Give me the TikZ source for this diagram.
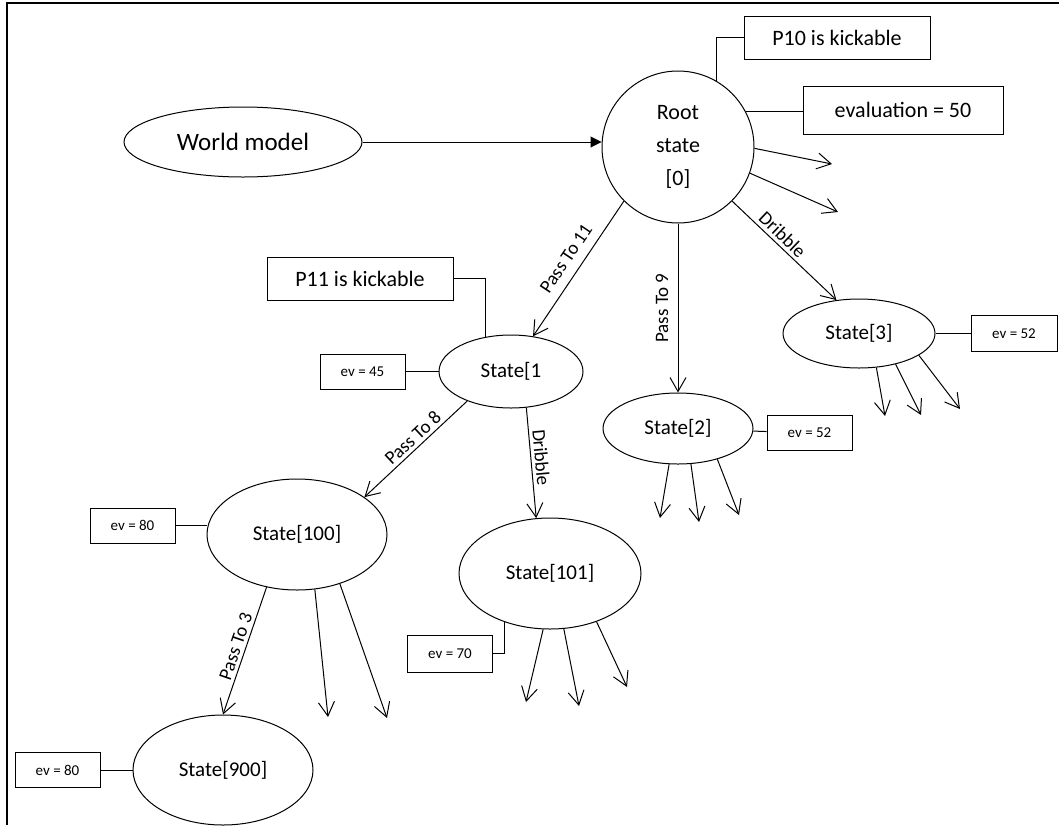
\documentclass[tikz,border=0pt]{standalone}
\usepackage{fontspec}
\setmainfont{Carlito}
\usetikzlibrary{shapes.geometric,positioning,arrows.meta}

\begin{document}
\begin{tikzpicture}[
        x=1pt, y=-1pt,
        line width=1pt,
        state/.style={ellipse, draw, inner sep=2pt, font=\fontsize{21}{25}\selectfont},
        infobox/.style={rectangle, draw, inner sep=2pt, minimum width=186pt, minimum height=43pt, font=\fontsize{22}{26}\selectfont},
        evbox/.style={rectangle, draw, inner sep=1pt, minimum width=85pt, minimum height=35pt, font=\fontsize{15}{18}\selectfont},
        move/.style={font=\fontsize{19}{22}\selectfont, sloped, above},
        >={Straight Barb[length=14pt,width=16pt]}
    ]
        \useasboundingbox (0,0) rectangle (1059,825);
        \draw[line width=1.6pt] (7,825) -- (7,3) -- (1059,3);

        % world model and root
        \node[ellipse, draw, minimum width=238pt, minimum height=70pt, font=\fontsize{25}{30}\selectfont] (wm) at (243,142) {World model};
        \node[circle, draw, minimum size=152pt, align=center, font=\fontsize{22}{33}\selectfont] (root) at (678,147) {Root\\state\\{[0]}};
        \node[infobox] (p10) at (837,37.5) {P10 is kickable};
        \node[infobox, minimum width=200pt, minimum height=48pt] (ev0) at (903,110) {evaluation = 50};

        % states
        \node[state, minimum width=144pt, minimum height=73pt] (s1) at (511,371.5) {State[1};
        \node[state, minimum width=150pt, minimum height=71pt] (s2) at (678,428.5) {State[2]};
        \node[state, minimum width=152pt, minimum height=69pt] (s3) at (859,333.5) {State[3]};
        \node[state, minimum width=180pt, minimum height=111pt] (s100) at (297,534.5) {State[100]};
        \node[state, minimum width=182pt, minimum height=111pt] (s101) at (550,573.5) {State[101]};
        \node[state, minimum width=180pt, minimum height=110pt] (s900) at (223,770) {State[900]};

        % annotations
        \node[infobox] (p11) at (360,278.5) {P11 is kickable};
        \node[evbox, left=33pt of s1] (ev1) {ev = 45};
        \node[evbox, right=13pt of s2, yshift=-4.5pt] (ev2) {ev = 52};
        \node[evbox, right=35pt of s3, minimum width=86pt, minimum height=36pt] (ev3) {ev = 52};
        \node[evbox, left=31pt of s100, yshift=9pt] (ev100) {ev = 80};
        \node[evbox, minimum height=37pt] (ev101) at (450,653.5) {ev = 70};
        \node[evbox, left=32pt of s900] (ev900) {ev = 80};

        % loose ends
        \coordinate (r1) at (832,164);
        \coordinate (r2) at (838,212);
        \coordinate (s2a) at (660,518);
        \coordinate (s2b) at (699,522);
        \coordinate (s2c) at (739,515);
        \coordinate (s3a) at (885,416);
        \coordinate (s3b) at (921,415);
        \coordinate (s3c) at (960,409);
        \coordinate (s100a) at (328,717);
        \coordinate (s100b) at (387,718);
        \coordinate (s101a) at (526,702);
        \coordinate (s101b) at (579,706);
        \coordinate (s101c) at (627,687);

        % root
        \draw[-{Triangle[length=11pt,width=11pt]}] (wm.east) -- (wm.east -| root.west);
        \draw (p10.west) -| (root.60);
        \draw (root.28) -- (root.28 -| ev0.west);
        \draw[->] (root.-1) -- (r1);
        \draw[->] (root.-20) -- (r2);
        \draw[->] (root.-135) -- node[move, pos=.49, above=6pt] {Pass To 11} (s1.58);
        \draw[<-] (s2.north) -- node[move, pos=.5, above=6pt] {Pass To 9} (root.south);
        \draw[->] (root.-45) -- node[move, pos=.415] {Dribble} (s3.124);

        % state 1
        \draw (p11.east) -| (s1.126);
        \draw (ev1) -- (s1);
        \draw[->] (s1.214) -- node[move, pos=.46] {Pass To 8} (s100.29);
        \draw[->] (s1.-67) -- node[move, pos=.46] {Dribble} (s101.104);

        % state 2 and 3
        \draw (s2) -- (ev2);
        \draw[->] (s2.-104) -- (s2a);
        \draw[->] (s2.-70) -- (s2b);
        \draw[->] (s2.-38) -- (s2c);
        \draw (s3) -- (ev3);
        \draw[->] (s3.-63) -- (s3a);
        \draw[->] (s3.-40) -- (s3b);
        \draw[->] (s3.-20) -- (s3c);

        % state 100, 101, 900
        \draw (ev100.east) -- (ev100.east -| s100.west);
        \draw[->] (s100.240) -- node[move, pos=.49] {Pass To 3} (s900.north);
        \draw[->] (s100.-72) -- (s100a);
        \draw[->] (s100.-49) -- (s100b);
        \draw (ev101.east) -| (s101.227);
        \draw[->] (s101.-97) -- (s101a);
        \draw[->] (s101.-76) -- (s101b);
        \draw[->] (s101.-46) -- (s101c);
        \draw (ev900) -- (s900);
    \end{tikzpicture}
\end{document}
